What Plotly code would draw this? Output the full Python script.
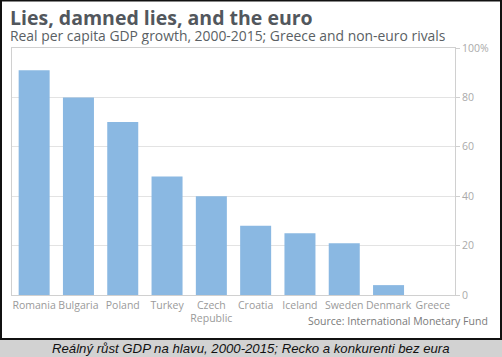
import plotly.graph_objects as go

countries = ["Romania", "Bulgaria", "Poland", "Turkey", "Czech<br>Republic",
             "Croatia", "Iceland", "Sweden", "Denmark", "Greece"]
growth = [91, 80, 70, 48, 40, 28, 25, 21, 4, 0]
tick_vals = [0, 20, 40, 60, 80, 100]
tick_text = ["0", "20", "40", "60", "80", "100%"]

W, H = 502, 357
L, R, T, B = 12, 47, 48, 62
PW, PH = W - L - R, H - T - B

def px(x):
    return (x - L) / PW

def py(y):
    return (H - B - y) / PH

fig = go.Figure(go.Bar(
    x=countries, y=growth,
    marker=dict(color="#8ab8e2", line=dict(width=0)),
    hoverinfo="skip",
))

FONT = "Open Sans"
fig.update_layout(
    width=W, height=H,
    margin=dict(l=L, r=R, t=T, b=B, autoexpand=False),
    paper_bgcolor="white", plot_bgcolor="white",
    bargap=0.3,
    showlegend=False,
    font=dict(family=FONT, color="#999999", size=11),
    xaxis=dict(
        showgrid=False, showline=True, linecolor="#d0d0d0", linewidth=1,
        mirror=True, ticks="", tickangle=0, automargin=False,
        tickfont=dict(size=10.5, color="#9a9a9a"),
        fixedrange=True,
    ),
    yaxis=dict(
        side="right", range=[0, 100], tickvals=tick_vals, ticktext=tick_text,
        showgrid=True, gridcolor="#e3e3e3", gridwidth=1, automargin=False,
        showline=True, linecolor="#d0d0d0", linewidth=1, mirror=True,
        ticks="outside", ticklen=4, tickcolor="#d0d0d0",
        tickfont=dict(size=10.5, color="#aaaaaa"), zeroline=False,
        fixedrange=True,
    ),
)

annotations = [
    dict(text="<b>Lies, damned lies, and the euro</b>", x=px(8), y=py(20.0),
         xanchor="left", yanchor="middle", height=21, valign="bottom",
         font=dict(family=FONT, size=19.5, color="#52575d")),
    dict(text="Real per capita GDP growth, 2000-2015; Greece and non-euro rivals",
         x=px(8), y=py(37.8), xanchor="left", yanchor="middle", height=14.5, valign="bottom",
         font=dict(family=FONT, size=13.9, color="#5a5f64")),
    dict(text="Source: International Monetary Fund", x=px(490), y=py(321),
         xanchor="right", yanchor="middle",
         font=dict(family=FONT, size=10.5, color="#7a7a7a")),
    dict(text="<i>Reálný růst GDP na hlavu, 2000-2015; Recko a konkurenti bez eura</i>",
         x=px(251), y=py(348.5), xanchor="center", yanchor="middle",
         font=dict(family="Liberation Sans Narrow, Liberation Sans, Arial", size=13.2,
                   color="#111111")),
]
for a in annotations:
    a.update(xref="paper", yref="paper", showarrow=False)
fig.update_layout(annotations=annotations)

shapes = [
    dict(type="rect", xref="paper", yref="paper", x0=px(0), x1=px(W), y0=py(H), y1=py(340),
         fillcolor="#d2d2d2", line=dict(width=0), layer="below"),
    dict(type="rect", xref="paper", yref="paper", x0=px(1), x1=px(501), y0=py(339), y1=py(0.5),
         fillcolor="rgba(0,0,0,0)", line=dict(color="#111111", width=2)),
]
fig.update_layout(shapes=shapes)

fig.write_html("out.html", config={"displayModeBar": False},
               post_script="document.body.style.margin='0';")
